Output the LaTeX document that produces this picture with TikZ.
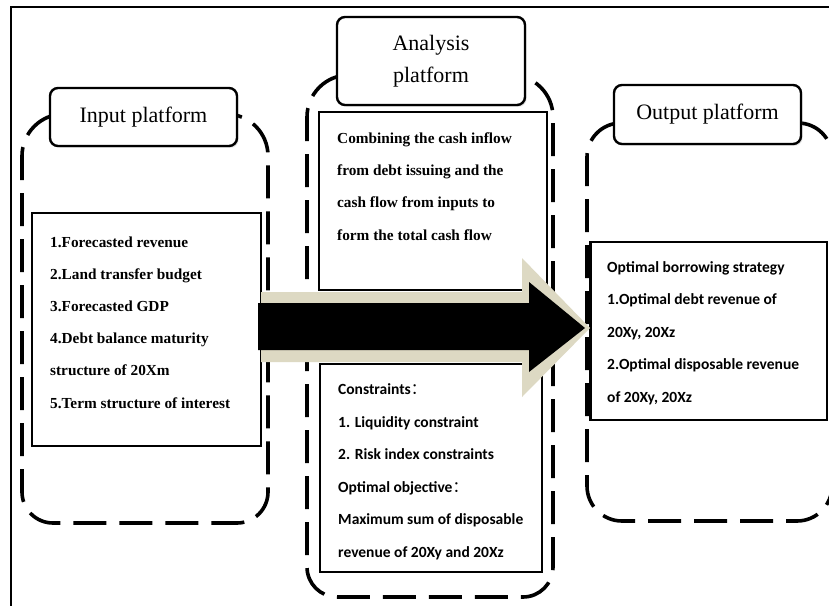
\documentclass[tikz,border=0pt]{standalone}
\usepackage{fontspec}
\setmainfont{Liberation Serif}
\newfontfamily\calibfont{Carlito}
\newfontfamily\cjkfont{Noto Sans CJK SC}
\usetikzlibrary{shadows}

% dashed container: left, right, top, bottom, top radius, bottom radius
\newcommand\platformframe[6]{%
  \draw[dashframe] ({(#1+#2)/2},#3) -- ({#1+#5},#3)
    arc[start angle=270, end angle=180, radius=#5] -- (#1,{#4-#6})
    arc[start angle=180, end angle=90, radius=#6] -- ({#2-#6},#4)
    arc[start angle=90, end angle=0, radius=#6] -- (#2,{#3+#5})
    arc[start angle=0, end angle=-90, radius=#5] -- cycle;}

\begin{document}
\begin{tikzpicture}[x=1pt,y=-1pt,
  dashframe/.style={line width=3.6pt, dash pattern=on 33pt off 13pt},
  labelbox/.style={draw, line width=2.4pt, rounded corners=8pt, fill=white,
    align=center, inner sep=0pt, font=\fontsize{22}{32}\selectfont,
    drop shadow={opacity=0.22, shadow xshift=1.6pt, shadow yshift=-1.8pt}},
  contentbox/.style={draw, line width=2pt, fill=white, anchor=north west,
    inner sep=0pt, outer sep=0pt},
  % multi-line text blocks are placed by the baseline of their last line
  serifbody/.style={font=\fontsize{15.3}{32.2}\bfseries\selectfont, align=left,
    anchor=base west, inner sep=0pt},
  sansbody/.style={font=\calibfont\fontsize{15.5}{32.5}\bfseries\selectfont,
    align=left, anchor=base west, inner sep=0pt},
  arrowrim/.style={fill={rgb,255:red,221;green,217;blue,195}},
  arrowcore/.style={fill=black}
]
\useasboundingbox (0,0) rectangle (829,605);
\clip (0,0) rectangle (829,605);
\fill[white] (0,0) rectangle (829,605);

% outer frame
\draw[line width=1.8pt] (11,7) rectangle (845,625);

% dashed platform containers
\platformframe{22}{268}{114}{523}{42}{31}
\platformframe{307}{553}{75}{597}{42}{30}
\platformframe{587}{832}{123}{521}{34}{35}

% content boxes
\node[contentbox, minimum width=229pt, minimum height=233pt] (inbox) at (32,213) {};
\node[contentbox, minimum width=228pt, minimum height=178pt] (antop) at (319,112) {};
\node[contentbox, minimum width=222pt, minimum height=208pt] (anbot) at (320,364) {};
\node[contentbox, minimum width=237pt, minimum height=178pt] (outbox) at (590,242) {};
\draw[line width=3pt] (outbox.north west) -- (outbox.south west);

\node[serifbody] (intext) at (50,408)
  {1.Forecasted revenue\\2.Land transfer budget\\3.Forecasted GDP\\4.Debt balance maturity\\structure of 20Xm\\5.Term structure of interest};
\node[serifbody] (antext) at (337,240)
  {Combining the cash inflow\\from debt issuing and the\\cash flow from inputs to\\form the total cash flow};
\node[sansbody] (context) at (338,557)
  {Constraints{\cjkfont\mdseries ：}\\1. Liquidity constraint\\2. Risk index constraints\\Optimal objective{\cjkfont\mdseries ：}\\Maximum sum of disposable\\revenue of 20Xy and 20Xz};
\node[sansbody] (outtext) at (607,402)
  {Optimal borrowing strategy\\1.Optimal debt revenue of\\20Xy, 20Xz\\2.Optimal disposable revenue\\of 20Xy, 20Xz};

% block arrow from the inputs to the outputs
\coordinate (tip) at ([yshift=3pt]outbox.west);
\begin{scope}[shift={(tip)}]
  \fill[arrowrim] (-329,-36) -- (-68,-36) -- (-68,-70) -- (0,0) -- (-68,69)
    -- (-68,34) -- (-329,34) -- cycle;
  \fill[arrowcore] (-332,-25) -- (-61,-25) -- (-61,-46) -- (-5,0) -- (-61,44)
    -- (-61,22) -- (-332,22) -- cycle;
\end{scope}

% platform titles
\node[labelbox, minimum width=187pt, minimum height=58pt] (inlabel) at (143.5,117) {Input platform};
\node[labelbox, minimum width=188pt, minimum height=88pt] (anlabel) at (431,61) {Analysis\\platform};
\node[labelbox, minimum width=187pt, minimum height=59pt] (outlabel) at (707.5,114.5) {Output platform};
\end{tikzpicture}
\end{document}
